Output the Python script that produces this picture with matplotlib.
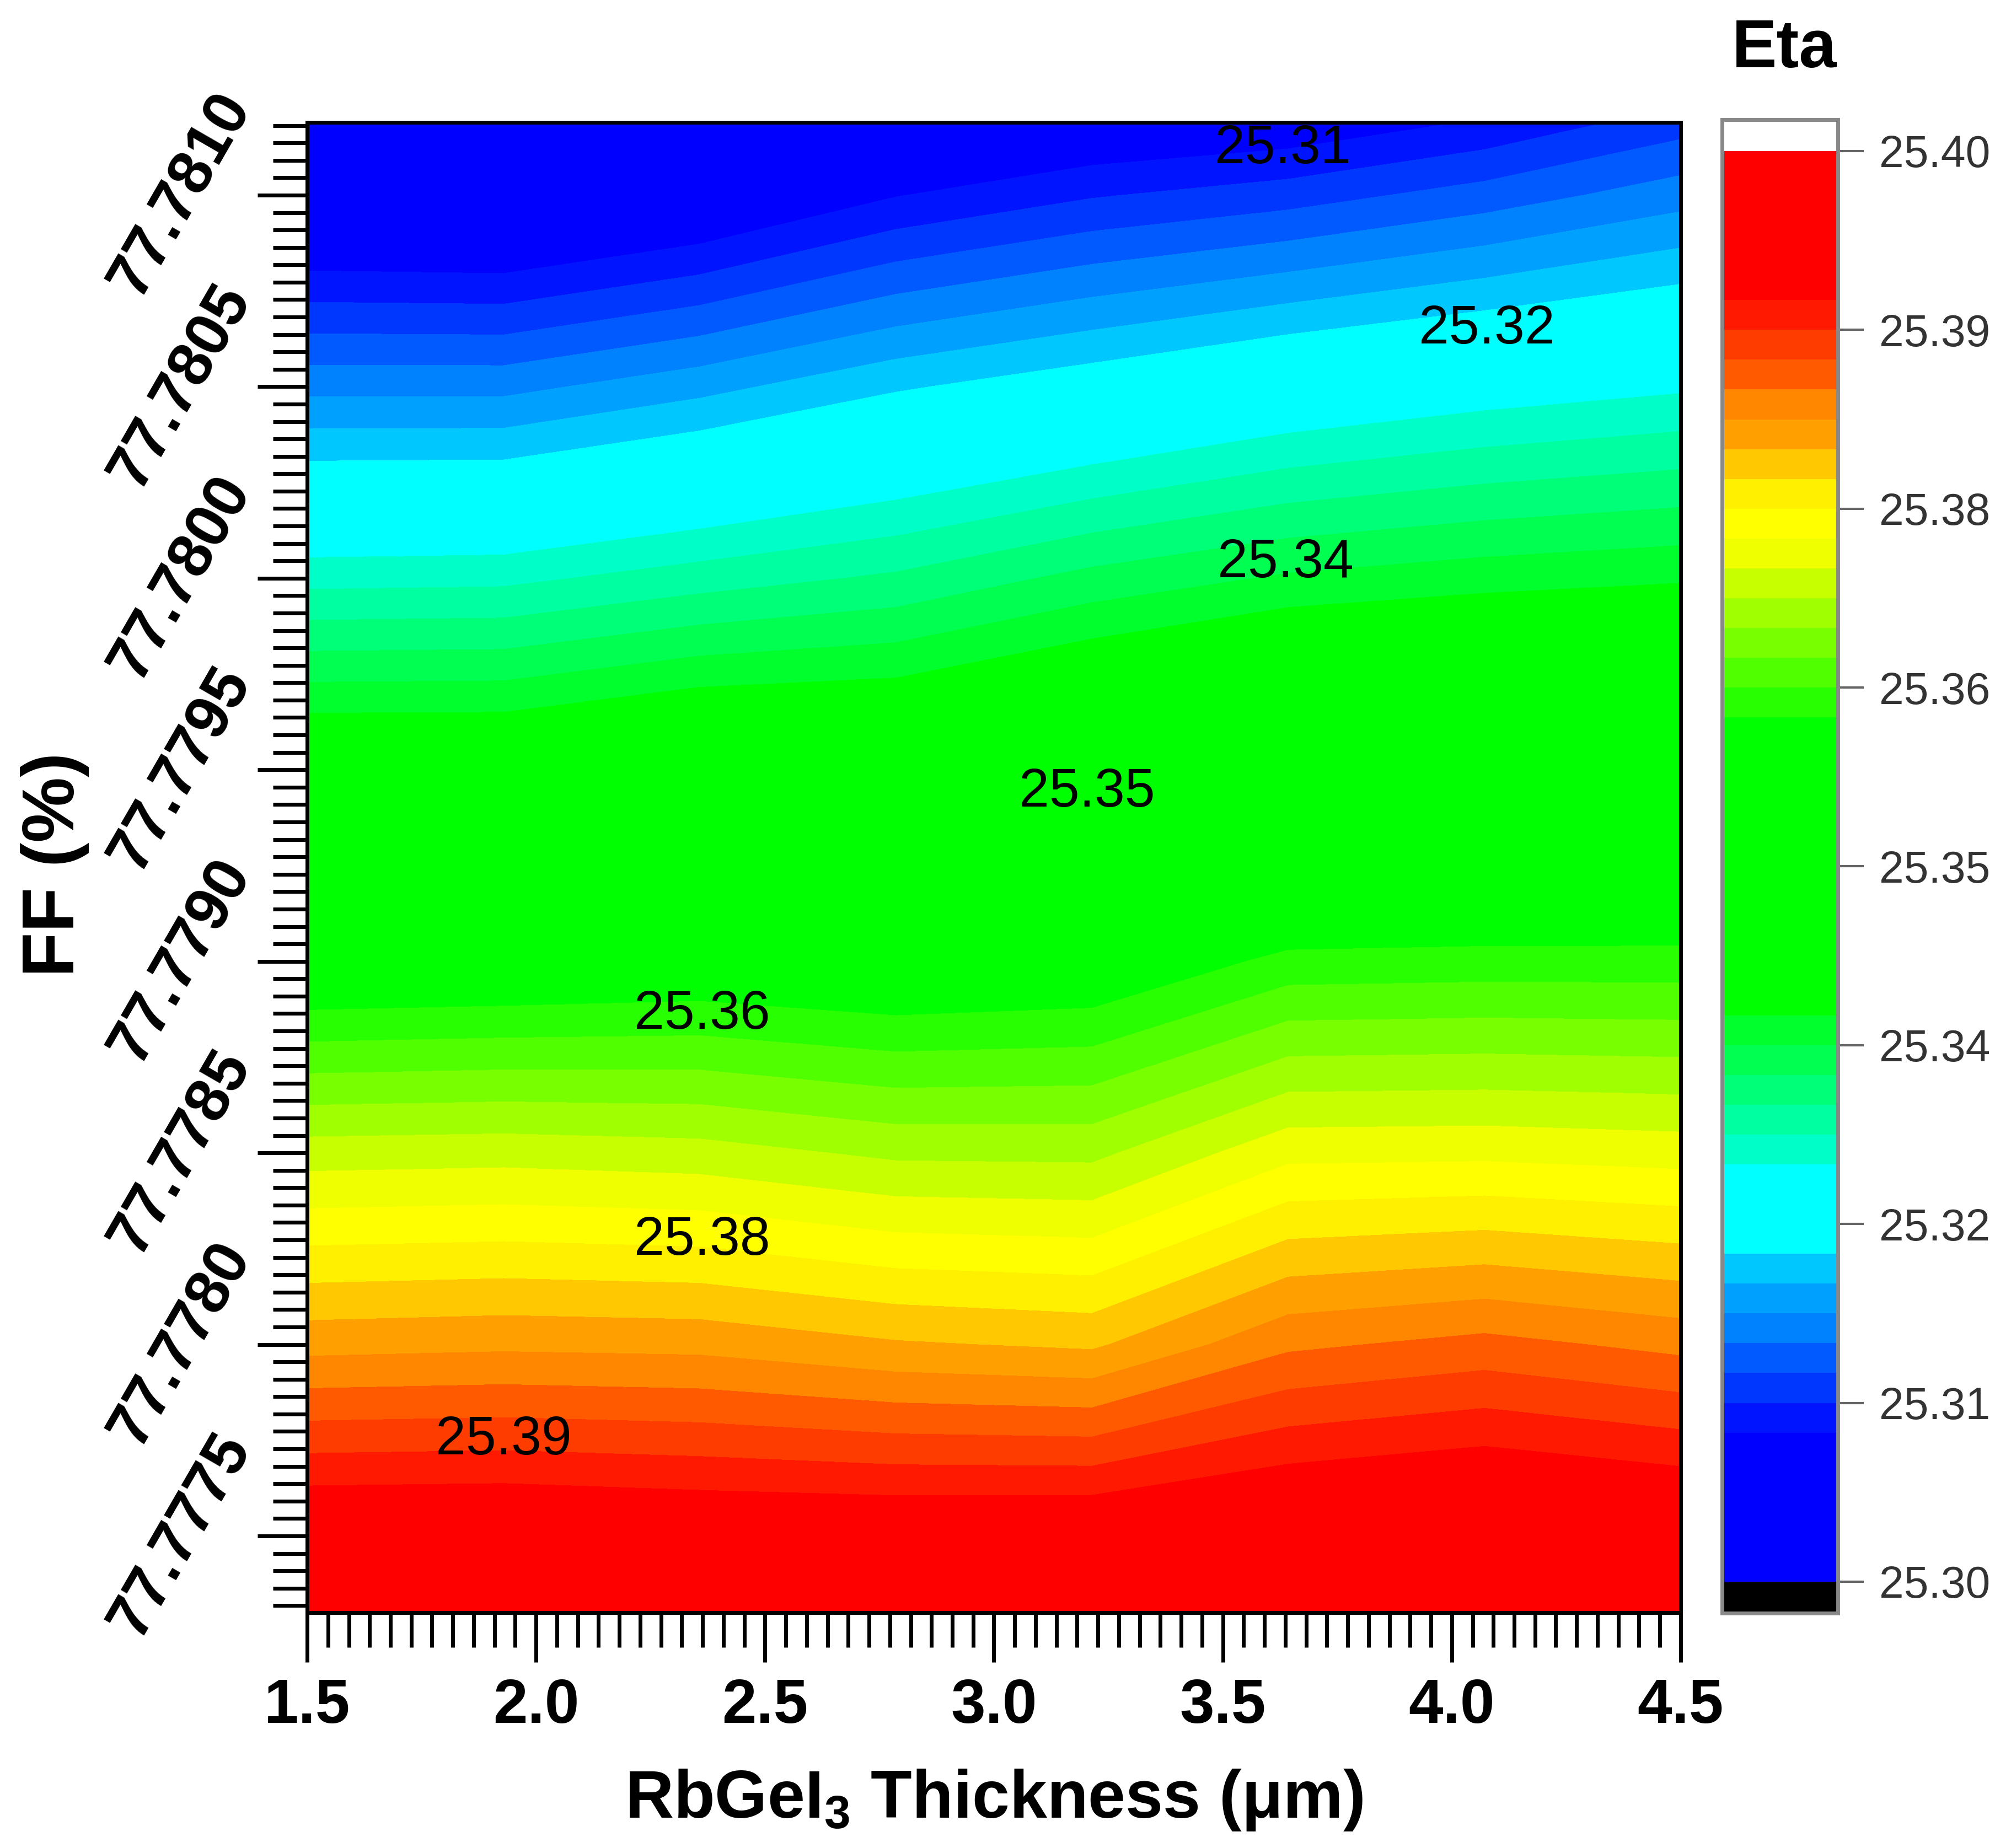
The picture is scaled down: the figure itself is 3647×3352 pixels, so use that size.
import numpy as np
import matplotlib
matplotlib.use('Agg')
import matplotlib.pyplot as plt
from matplotlib.colors import ListedColormap, Normalize
from matplotlib.ticker import AutoMinorLocator

plt.rcParams['font.family'] = ['Liberation Sans', 'DejaVu Sans']
plt.rcParams['mathtext.fontset'] = 'custom'
plt.rcParams['mathtext.rm'] = 'Liberation Sans:bold'
plt.rcParams['mathtext.bf'] = 'Liberation Sans:bold'
plt.rcParams['mathtext.it'] = 'Liberation Sans:bold:italic'

# ---------------- data ----------------
thickness = [1.5, 1.9286, 2.3571, 2.7857, 3.2143, 3.6429, 4.0714, 4.5]
ff = [77.77730, 77.7775, 77.7780, 77.7785, 77.7790, 77.7795, 77.7800, 77.7805, 77.7810, 77.78119]

eta_ff_77_77730 = [25.3977, 25.3977, 25.3970, 25.3973, 25.3975, 25.3978, 25.3985, 25.3977]
eta_ff_77_7775 = [25.3928, 25.3929, 25.3924, 25.3923, 25.3925, 25.3936, 25.3945, 25.3935]
eta_ff_77_7780 = [25.3805, 25.3808, 25.3806, 25.3794, 25.3788, 25.3829, 25.3840, 25.3827]
eta_ff_77_7785 = [25.3698, 25.3700, 25.3696, 25.3683, 25.3682, 25.3723, 25.3724, 25.3720]
eta_ff_77_7790 = [25.3572, 25.3575, 25.3580, 25.3573, 25.3579, 25.3611, 25.3613, 25.3613]
eta_ff_77_7795 = [25.3434, 25.3434, 25.3451, 25.3450, 25.3471, 25.3495, 25.3500, 25.3503]
eta_ff_77_7800 = [25.3305, 25.3307, 25.3323, 25.3337, 25.3361, 25.3378, 25.3387, 25.3393]
eta_ff_77_7805 = [25.3181, 25.3181, 25.3201, 25.3226, 25.3244, 25.3264, 25.3278, 25.3288]
eta_ff_77_7810 = [25.3054, 25.3051, 25.3071, 25.3103, 25.3123, 25.3136, 25.3155, 25.3178]
eta_ff_77_78119 = [25.3006, 25.3003, 25.3023, 25.3057, 25.3077, 25.3086, 25.3107, 25.3136]

xtick_values = [1.5, 2.0, 2.5, 3.0, 3.5, 4.0, 4.5]
xtick_labels = ['1.5', '2.0', '2.5', '3.0', '3.5', '4.0', '4.5']
ytick_values = [77.7775, 77.7780, 77.7785, 77.7790, 77.7795, 77.7800, 77.7805, 77.7810]
ytick_labels = ['77.7775', '77.7780', '77.7785', '77.7790', '77.7795', '77.7800', '77.7805', '77.7810']

cbar_ticks = [25.30, 25.3125, 25.325, 25.3375, 25.35, 25.3625, 25.375, 25.3875, 25.40]
cbar_ticklabels = ['25.30', '25.31', '25.32', '25.34', '25.35', '25.36', '25.38', '25.39', '25.40']

contour_label_text = ['25.31', '25.32', '25.34', '25.35', '25.36', '25.38', '25.39']
contour_label_x = [3.631, 4.077, 3.637, 3.203, 2.363, 2.363, 1.929]
contour_label_y = [77.78112, 77.78065, 77.78004, 77.77944, 77.77886, 77.77827, 77.77775]

eta_min, eta_max, n_bands = 25.30, 25.40, 48

# ---------------- style ----------------
band_rgb = ([(0, 0, 255)] * 5 +
            [(0, 20, 255), (0, 55, 255), (0, 90, 255), (0, 130, 255), (0, 160, 255), (0, 200, 255)] +
            [(0, 255, 255)] * 3 +
            [(0, 255, 200), (0, 255, 160), (0, 255, 120), (0, 255, 80), (0, 255, 45)] +
            [(0, 255, 0)] * 10 +
            [(40, 255, 0), (80, 255, 0), (120, 255, 0), (160, 255, 0), (200, 255, 0), (240, 255, 0),
             (255, 255, 0), (255, 240, 0), (255, 200, 0), (255, 160, 0), (255, 135, 0), (255, 90, 0),
             (255, 60, 0), (255, 25, 0)] +
            [(255, 0, 0)] * 5)
cmap = ListedColormap([(r / 255, g / 255, b / 255) for r, g, b in band_rgb])
cmap.set_under('black')
cmap.set_over('white')

eta = np.array([eta_ff_77_77730, eta_ff_77_7775, eta_ff_77_7780, eta_ff_77_7785,
                eta_ff_77_7790, eta_ff_77_7795, eta_ff_77_7800, eta_ff_77_7805,
                eta_ff_77_7810, eta_ff_77_78119])
X, Y = np.meshgrid(thickness, ff)
levels = np.linspace(eta_min, eta_max, n_bands + 1)

fig = plt.figure(figsize=(36.48, 33.52), dpi=100)
fig.patch.set_facecolor('white')
ax = fig.add_axes([0.1527, 0.1274, 0.8355 - 0.1527, 0.9338 - 0.1274])

cf = ax.contourf(X, Y, eta, levels=levels, cmap=cmap,
                 norm=Normalize(eta_min, eta_max), extend='both')

for txt, lx, ly in zip(contour_label_text, contour_label_x, contour_label_y):
    ax.text(lx, ly, txt, ha='center', va='center', fontsize=71, color='black')

ax.set_xlim(1.5, 4.5)
ax.set_ylim(ff[0], ff[-1])
ax.set_xticks(xtick_values, labels=xtick_labels, fontsize=81, fontweight='bold')
ax.set_yticks(ytick_values, labels=ytick_labels, fontsize=81, fontweight='bold',
              rotation=60, ha='right', va='center')
ax.xaxis.set_minor_locator(AutoMinorLocator(11))
ax.yaxis.set_minor_locator(AutoMinorLocator(11))
ax.tick_params(which='major', direction='out', length=65, width=5, color='black')
ax.tick_params(which='minor', direction='out', length=45, width=5, color='black')
ax.tick_params(axis='x', which='major', pad=20)
ax.tick_params(axis='y', which='major', pad=-6)
for sp in ax.spines.values():
    sp.set_linewidth(5)
    sp.set_color('black')

fig.text(0.4941, 0.0164, r'RbGeI$_{\mathrm{3}}$ Thickness (μm)', ha='center', va='baseline',
         fontsize=88, fontweight='bold')
fig.text(0.0274, 0.5322, 'FF (%)', ha='center', va='center', rotation=90,
         fontsize=96, fontweight='bold')

cax = fig.add_axes([0.8561, 0.1271, 0.0576, 0.8082])
cb = fig.colorbar(cf, cax=cax, extend='both', extendrect=True, extendfrac=0.022)
cb.set_ticks(cbar_ticks, labels=cbar_ticklabels)
cb.ax.minorticks_off()
cb.ax.tick_params(length=34, width=3, color='#666666', pad=20, labelsize=58,
                  labelcolor='#333333')
cb.outline.set_edgecolor('#888888')
cb.outline.set_linewidth(5)

fig.text(0.887, 0.9636, 'Eta', ha='center', va='baseline', fontsize=88, fontweight='bold')

fig.savefig('out.png', dpi=100, facecolor='white')
